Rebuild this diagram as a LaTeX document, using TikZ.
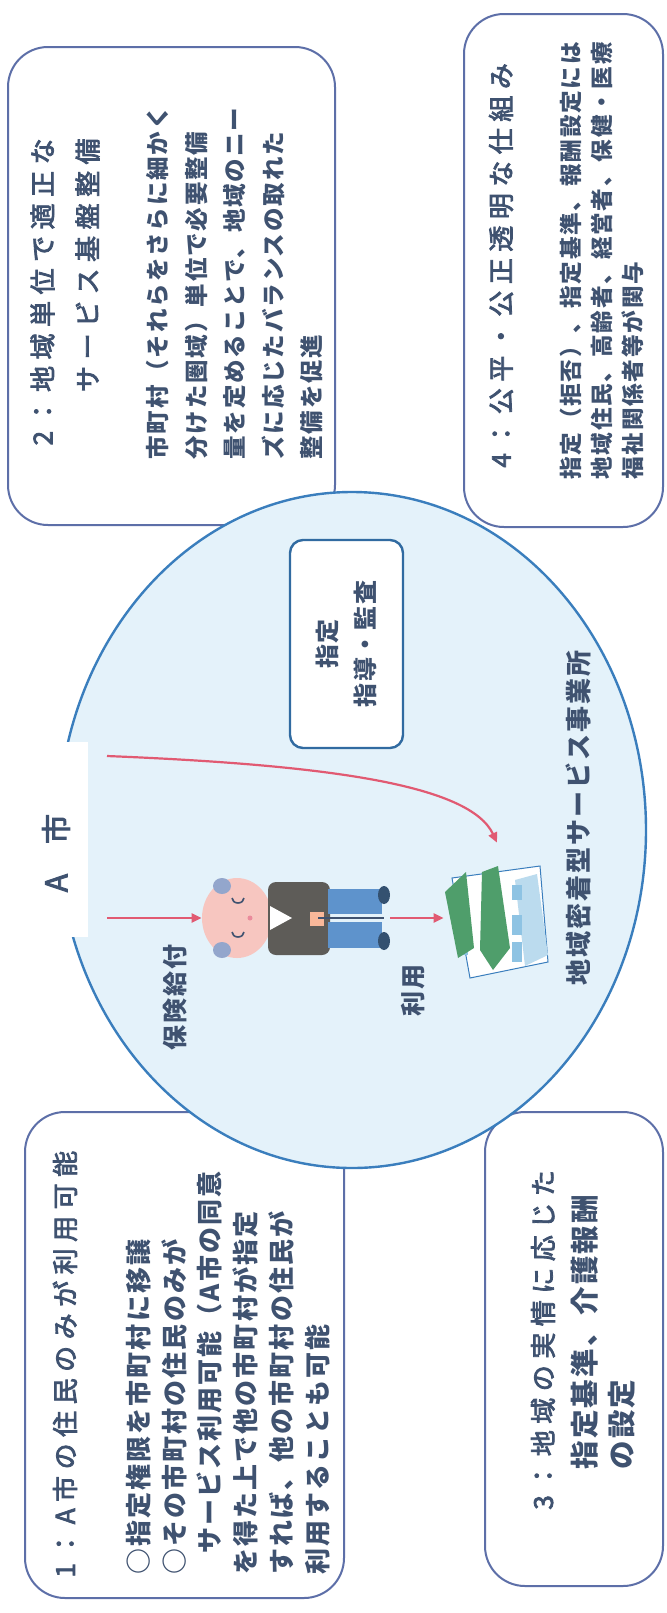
\documentclass[tikz,border=0pt]{standalone}
\usepackage{fontspec}
\usepackage{xcolor}
\usetikzlibrary{arrows.meta,shapes.geometric}
\setmainfont{Noto Sans CJK JP}
\newfontfamily\headjp[LetterSpace=25,FakeBold=3]{Noto Sans CJK JP}
\newfontfamily\namejp[FakeBold=3]{Noto Sans CJK JP}
\newfontfamily\bodyjp[LetterSpace=8]{Noto Sans CJK JP}
\definecolor{ink}{HTML}{3F5270}
\definecolor{panelLine}{HTML}{5D6FA8}
\definecolor{cityLine}{HTML}{3A7EBD}
\definecolor{cityFill}{HTML}{E4F2FA}
\definecolor{flowRed}{HTML}{E15A72}
\definecolor{roofGreen}{HTML}{4F9E6B}
\definecolor{glassBlue}{HTML}{8EC3E3}
\definecolor{skin}{HTML}{F7C6C0}
\definecolor{hair}{HTML}{93A6CC}
\definecolor{jacket}{HTML}{5E5C58}
\definecolor{trousers}{HTML}{5E93CC}

\begin{document}
\begin{tikzpicture}[x=0.5pt, y=-0.5pt,
  every node/.style={text=ink, inner sep=0pt},
  panel/.style={draw=panelLine, line width=1pt, rounded corners=20pt, fill=white},
  head/.style={rotate=90, anchor=west, align=left, font=\headjp\fontsize{13}{22.5}\selectfont},
  body/.style={rotate=90, anchor=west, align=left},
  tag/.style={rotate=90, font=\bodyjp\bfseries\fontsize{12.5}{15}\selectfont},
  flow/.style={draw=flowRed, line width=1.1pt, -{Triangle[length=5pt,width=4.5pt]}},
]
  \fill[white] (0,0) rectangle (666,1613);
  \useasboundingbox (0,0) rectangle (666,1613);

  % four panels round the city
  \draw[panel] (8,47) rectangle (335,525);
  \draw[panel] (464,14) rectangle (663,527);
  \draw[panel] (25,1112) rectangle (344,1598);
  \draw[panel] (485,1112) rectangle (663,1586);

  % city A
  \node[ellipse, draw=cityLine, line width=1.2pt, fill=cityFill, minimum width=294pt, minimum height=338pt] (city) at (352,830) {};
  \node[fill=white, minimum width=31.5pt, minimum height=97.5pt] (citytag) at (56.5,839.5) {};
  \node[rotate=90, font=\namejp\fontsize{15}{15}\selectfont] (cityname) at (56,853) {A　市};

  \node[rotate=90, draw=cityLine!85!black, line width=1.2pt, rounded corners=6.5pt, fill=white,
    minimum width=104pt, minimum height=56.5pt, align=center,
    font=\bodyjp\bfseries\fontsize{12}{19}\selectfont] (audit) at (346.5,644) {指定\\指導・監査};

  % elderly resident
  \node[ellipse, fill=skin, minimum width=35pt, minimum height=40pt] (elder) at (237,918) {};
  \fill[hair] (222,886) ellipse (9 and 8);
  \fill[hair] (222,950) ellipse (9 and 8);
  \draw[ink, line width=0.8pt] (232,898) arc (180:0:6 and 5);
  \draw[ink, line width=0.8pt] (232,932) arc (180:0:6 and 5);
  \fill[flowRed!70] (250,918) circle (2.5);
  \fill[jacket, rounded corners=4pt] (268,882) rectangle (330,955);
  \fill[white] (270,906) -- (292,918) -- (270,930) -- cycle;
  \fill[skin!80!orange] (310,912) rectangle (324,926);
  \fill[trousers] (328,889) rectangle (382,914);
  \fill[trousers] (328,922) rectangle (382,948);
  \draw[ink, line width=0.8pt] (318,918) -- (384,918);
  \fill[trousers!55!black] (384,895) ellipse (6 and 9);
  \fill[trousers!55!black] (384,941) ellipse (6 and 9);
  \coordinate (feet) at (390,918);

  % care office
  \node[minimum width=53pt, minimum height=75pt] (office) at (497,918) {};
  \filldraw[fill=white, draw=cityLine, line width=0.5pt] (452,878) -- (540,866) -- (548,962) -- (470,978) -- cycle;
  \fill[glassBlue!60] (515,880) -- (537,874) -- (548,955) -- (525,966) -- cycle;
  \fill[glassBlue] (458,888) rectangle (468,905);
  \fill[glassBlue] (458,912) rectangle (468,930);
  \fill[glassBlue] (458,937) rectangle (468,955);
  \fill[glassBlue] (512,885) rectangle (522,900);
  \fill[glassBlue] (512,915) rectangle (522,935);
  \fill[glassBlue] (512,942) rectangle (522,962);
  \fill[roofGreen] (445,892) -- (466,872) -- (474,948) -- (458,958) -- cycle;
  \fill[roofGreen] (482,872) -- (498,866) -- (510,948) -- (493,970) -- (480,950) -- cycle;

  \node[tag] (pay) at (175,997) {保険給付};
  \node[tag] (use) at (413,990) {利用};
  \node[tag, font=\bodyjp\bfseries\fontsize{13}{15}\selectfont] (officename) at (578,818) {地域密着型サービス事業所};

  % flows
  \coordinate (grant) at (107,756);
  \coordinate (payfrom) at (107,918);
  \draw[flow] (grant) .. controls (330,765) and (470,785) .. (office.north);
  \draw[flow] (payfrom) -- (elder.west);
  \draw[flow] (feet) -- (office.west);

  % panel texts
  \node[head] (h1) at (65,1578) {1：A市の住民のみが利用可能};
  \node[body, font=\bodyjp\bfseries\fontsize{13}{17.9}\selectfont] (b1) at (228,1575)
    {○指定権限を市町村に移譲\\○その市町村の住民のみが\\\hspace*{0.8em}サービス利用可能（A市の同意\\を得た上で他の市町村が指定\\すれば、他の市町村の住民が\\利用することも可能};

  \node[head, anchor=east, align=right] (h2) at (65,138) {2：地域単位で適正な\\サービス基盤整備};
  \node[body, font=\bodyjp\bfseries\fontsize{11.75}{19.25}\selectfont] (b2) at (235,460)
    {市町村（それらをさらに細かく\\分けた圏域）単位で必要整備\\量を定めることで、地域のニー\\ズに応じたバランスの取れた\\整備を促進};

  \node[head] (h3) at (543,1510) {3：地域の実情に応じた};
  \node[body, font=\bodyjp\bfseries\fontsize{14.25}{18.5}\selectfont] (b3) at (603,1470)
    {指定基準、介護報酬\\の設定};

  \node[head] (h4) at (501,468) {4：公平・公正透明な仕組み};
  \node[body, font=\bodyjp\bfseries\fontsize{11.3}{15.5}\selectfont] (b4) at (602,480)
    {指定（拒否）、指定基準、報酬設定には\\地域住民、高齢者、経営者、保健・医療\\福祉関係者等が関与};
\end{tikzpicture}
\end{document}
